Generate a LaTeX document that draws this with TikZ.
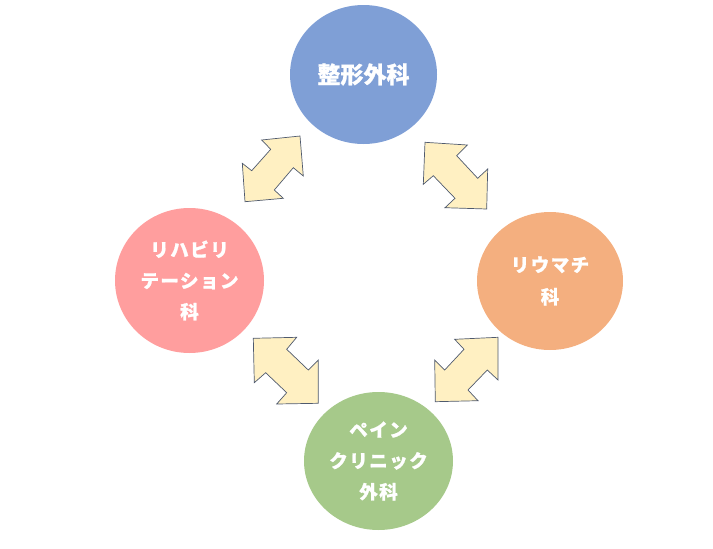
\documentclass[tikz,border=0pt]{standalone}
\usepackage{fontspec}
\newfontfamily\cjk{Noto Sans CJK JP}[FakeBold=1]
\newfontfamily\cjksp{Noto Sans CJK JP}[FakeBold=1,LetterSpace=8]
\definecolor{cblue}{HTML}{7F9FD6}
\definecolor{corange}{HTML}{F4AF7F}
\definecolor{cpink}{HTML}{FF9E9E}
\definecolor{cgreen}{HTML}{A6C98A}
\definecolor{afill}{HTML}{FFF0C2}
\definecolor{aline}{HTML}{4F5A6E}
\tikzset{
  dept/.style={ellipse, fill=#1, draw=none, text=white, align=center, inner sep=0pt},
  blockarrow/.style={fill=afill, draw=aline, line width=0.7pt, line join=miter},
}
\usetikzlibrary{shapes.geometric}
\begin{document}
\begin{tikzpicture}[x=1pt,y=-1pt]
\useasboundingbox (0,0) rectangle (713,549);
% departments
\node[dept=cblue, minimum width=147pt, minimum height=139pt, font={\cjk\bfseries\fontsize{23}{28}\selectfont}] (seikei) at (363.5,74.5) {整形外科};
\node[dept=corange, minimum width=146pt, minimum height=138pt, font={\cjksp\bfseries\fontsize{18.5}{32}\selectfont}] (riuma) at (550,281) {リウマチ\\科};
\node[dept=cpink, minimum width=149pt, minimum height=145pt, font={\cjksp\bfseries\fontsize{18.5}{31}\selectfont}] (reha) at (189.5,280.5) {リハビリ\\テーション\\科};
\node[dept=cgreen, minimum width=149pt, minimum height=138pt, font={\cjksp\bfseries\fontsize{18.5}{31}\selectfont}] (pain) at (378.5,461) {ペイン\\クリニック\\外科};
% double block arrows
\draw[blockarrow] (300,136) -- (303.3,176) -- (293.3,167.7) -- (274.3,190) -- (283.3,198.3) -- (245,201.7) -- (242.3,163.3) -- (251.7,170.7) -- (270.7,149.3) -- (261.7,140) -- cycle;
\draw[blockarrow] (425,142.3) -- (467.3,145) -- (456.7,155.7) -- (477.7,178.3) -- (487.7,169) -- (486.7,209) -- (445,207.7) -- (455,198.3) -- (433.3,175.7) -- (423.3,184.3) -- cycle;
\draw[blockarrow] (253.3,338.3) -- (296.7,337.3) -- (286.7,349.3) -- (308.3,370) -- (318.3,360) -- (318.3,403.3) -- (276.7,404) -- (286.7,392.7) -- (265.7,372.7) -- (254.3,382.7) -- cycle;
\draw[blockarrow] (498,337.3) -- (498,380) -- (487.3,370) -- (468,390) -- (478,400.7) -- (435.3,401.7) -- (434.7,360) -- (444.7,370) -- (464,349.3) -- (454.7,339.3) -- cycle;
\end{tikzpicture}
\end{document}
